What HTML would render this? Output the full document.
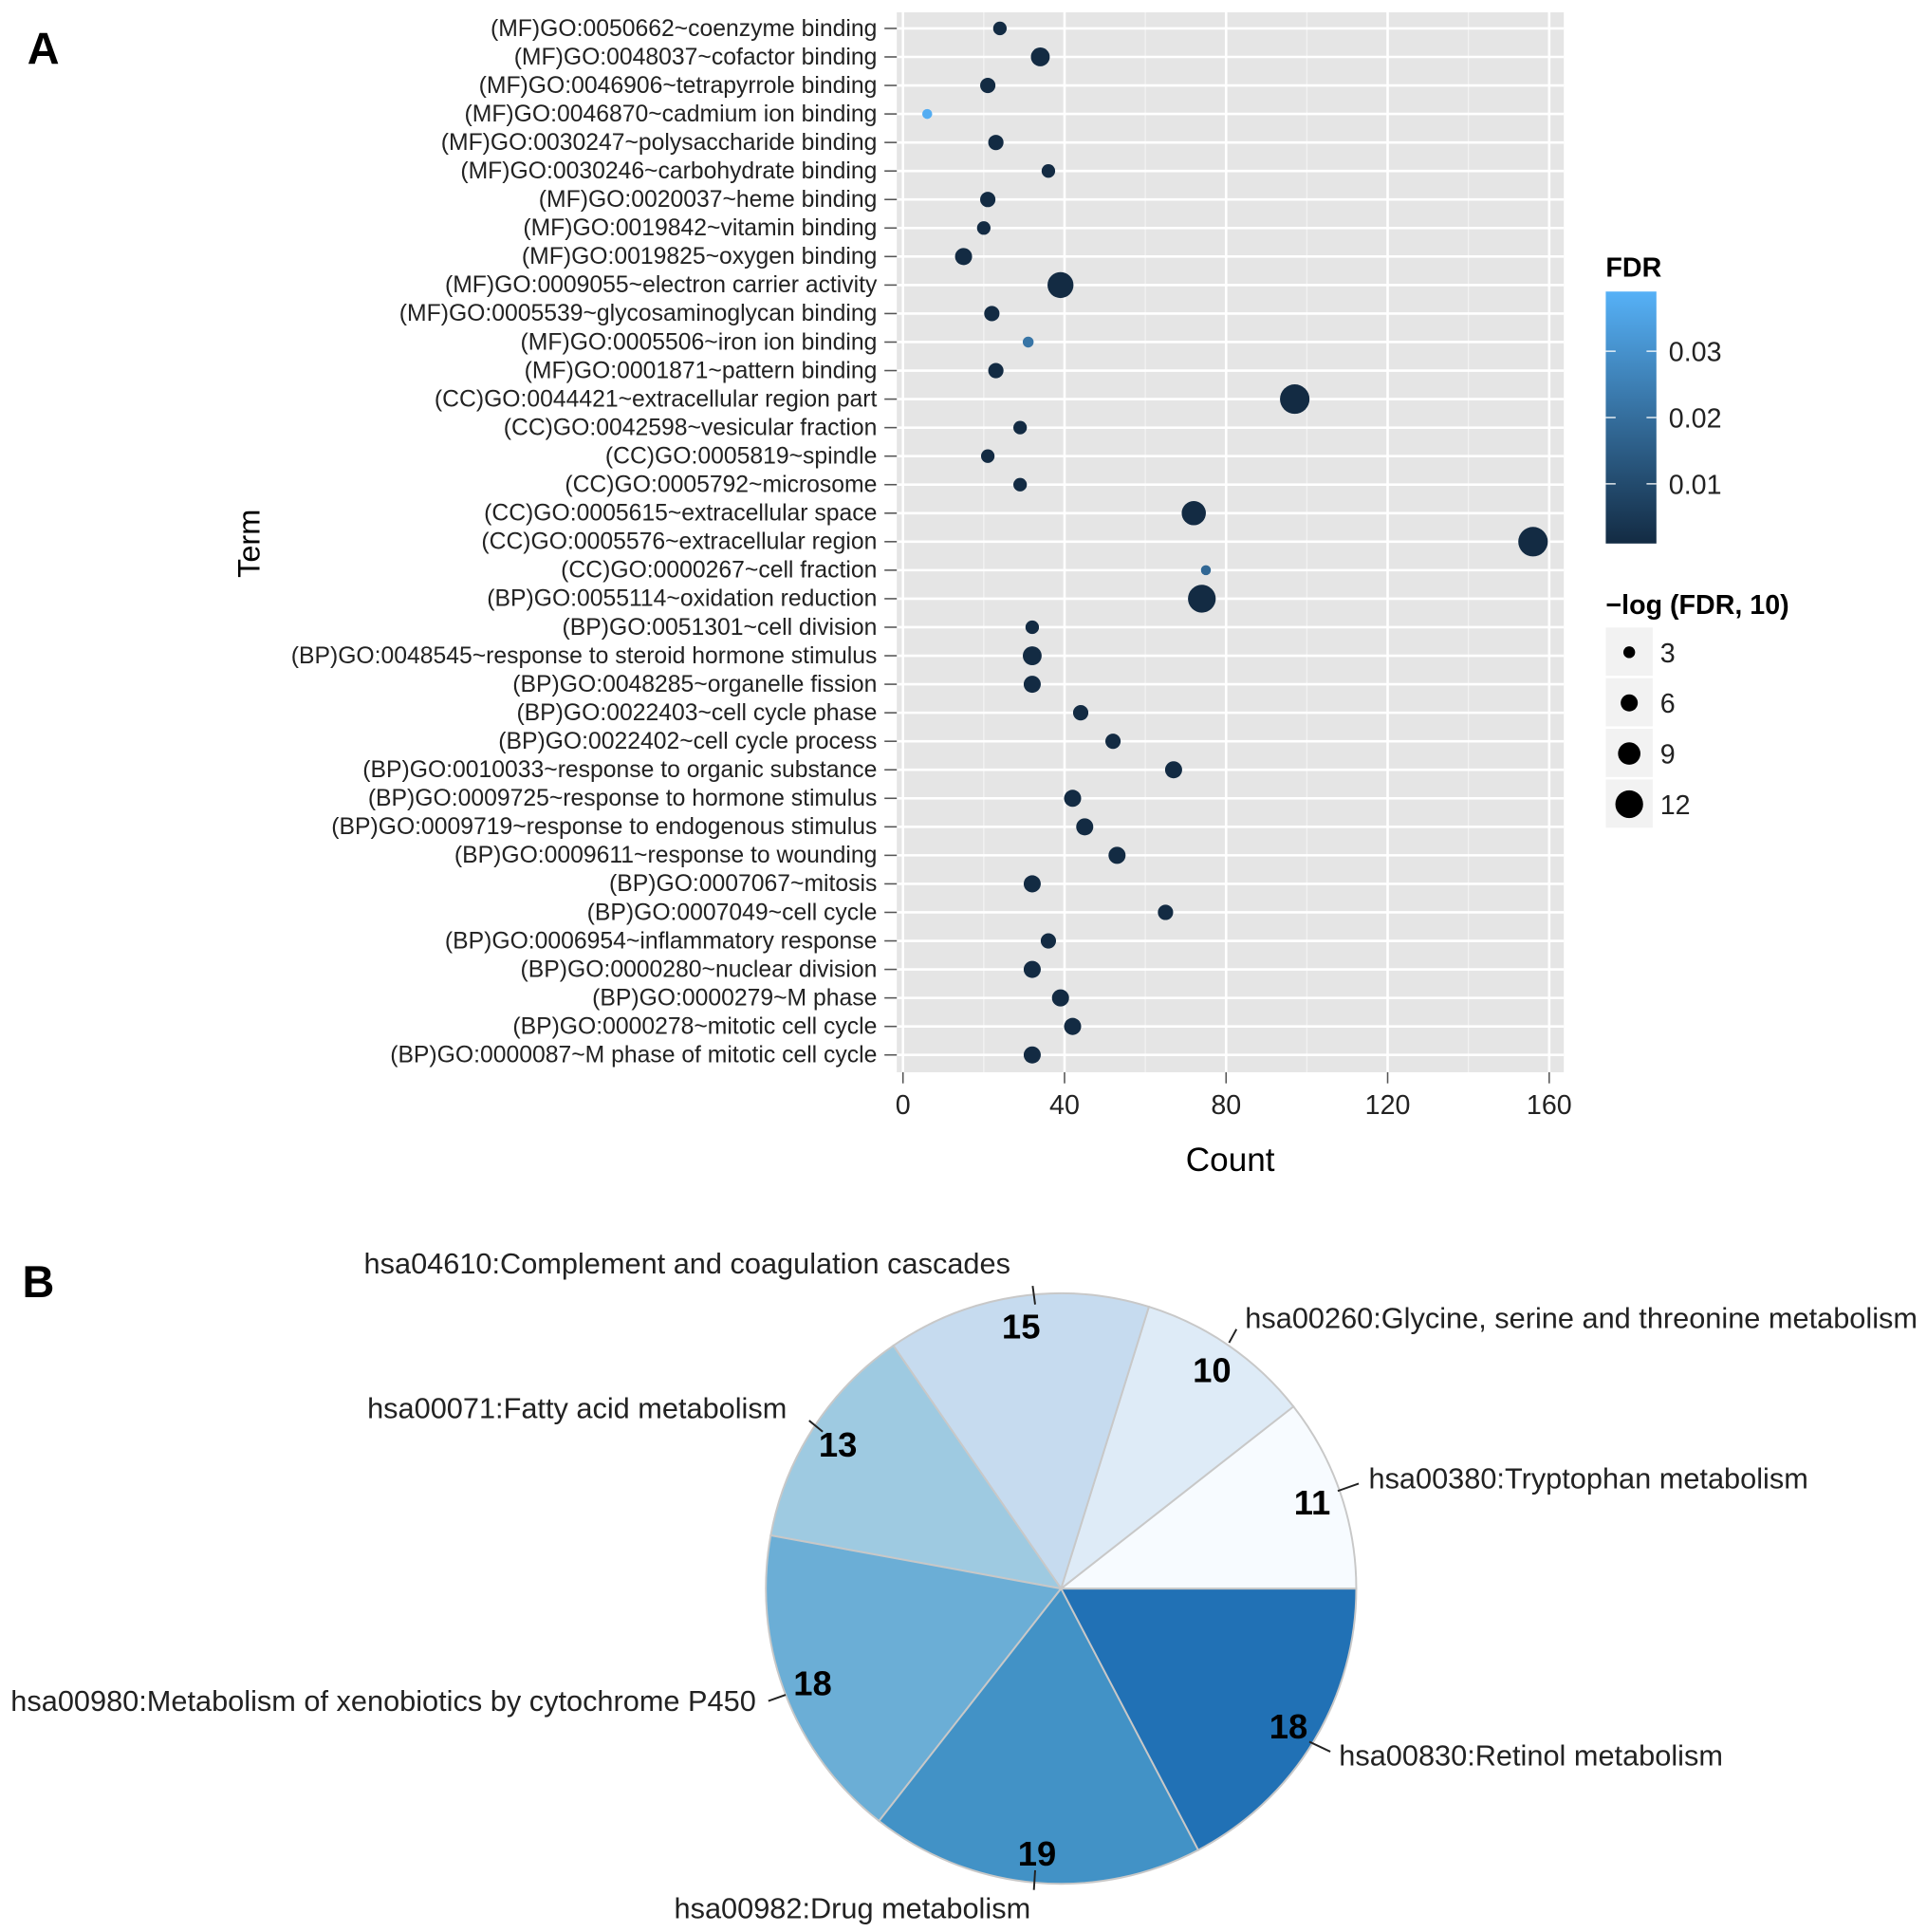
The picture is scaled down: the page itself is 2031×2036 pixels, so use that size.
<!DOCTYPE html>
<html><head><meta charset="utf-8"><style>
html,body{margin:0;padding:0;background:#fff}
svg{display:block;font-family:"Liberation Sans",Arial,sans-serif}
</style></head><body>
<svg id="fig" width="2031" height="2036" viewBox="0 0 1560 1564" xmlns="http://www.w3.org/2000/svg">
<rect width="1560" height="1564" fill="#fff"/>
<text x="22" y="52" font-size="36" font-weight="bold">A</text>
<text x="18" y="1050" font-size="36" font-weight="bold">B</text>
<g id="dot"></g>
<g id="pie"></g>
</svg>
<script>
const terms=["(MF)GO:0050662~coenzyme binding","(MF)GO:0048037~cofactor binding","(MF)GO:0046906~tetrapyrrole binding","(MF)GO:0046870~cadmium ion binding","(MF)GO:0030247~polysaccharide binding","(MF)GO:0030246~carbohydrate binding","(MF)GO:0020037~heme binding","(MF)GO:0019842~vitamin binding","(MF)GO:0019825~oxygen binding","(MF)GO:0009055~electron carrier activity","(MF)GO:0005539~glycosaminoglycan binding","(MF)GO:0005506~iron ion binding","(MF)GO:0001871~pattern binding","(CC)GO:0044421~extracellular region part","(CC)GO:0042598~vesicular fraction","(CC)GO:0005819~spindle","(CC)GO:0005792~microsome","(CC)GO:0005615~extracellular space","(CC)GO:0005576~extracellular region","(CC)GO:0000267~cell fraction","(BP)GO:0055114~oxidation reduction","(BP)GO:0051301~cell division","(BP)GO:0048545~response to steroid hormone stimulus","(BP)GO:0048285~organelle fission","(BP)GO:0022403~cell cycle phase","(BP)GO:0022402~cell cycle process","(BP)GO:0010033~response to organic substance","(BP)GO:0009725~response to hormone stimulus","(BP)GO:0009719~response to endogenous stimulus","(BP)GO:0009611~response to wounding","(BP)GO:0007067~mitosis","(BP)GO:0007049~cell cycle","(BP)GO:0006954~inflammatory response","(BP)GO:0000280~nuclear division","(BP)GO:0000279~M phase","(BP)GO:0000278~mitotic cell cycle","(BP)GO:0000087~M phase of mitotic cell cycle"];
const counts=[24,34,21,6,23,36,21,20,15,39,22,31,23,97,29,21,29,72,156,75,74,32,32,32,44,52,67,42,45,53,32,65,36,32,39,42,32];
const negLog=[4,7,5,2,5,4,5,4,6,11,5,2.5,5,13,4,4,4,10,13,2,12,4,7,6,5,5,6,6,6,6,6,5,5,6,6,6,6];
const fdr=[0.001,0.001,0.001,0.038,0.001,0.001,0.001,0.001,0.001,0.001,0.001,0.022,0.001,0.001,0.001,0.001,0.001,0.001,0.001,0.018,0.001,0.001,0.001,0.001,0.001,0.001,0.001,0.001,0.001,0.001,0.001,0.001,0.001,0.001,0.001,0.001,0.001];
const xTicks=[0,40,80,120,160];
const fdrTicks=[0.01,0.02,0.03];
const sizeKeys=[3,6,9,12];
const pieLabels=["hsa00380:Tryptophan metabolism","hsa00260:Glycine, serine and threonine metabolism","hsa04610:Complement and coagulation cascades","hsa00071:Fatty acid metabolism","hsa00980:Metabolism of xenobiotics by cytochrome P450","hsa00982:Drug metabolism","hsa00830:Retinol metabolism"];
const pieValues=[11,10,15,13,18,19,18];
const pieColors=["#f7fbff","#deebf7","#c6dbef","#9ecae1","#6baed6","#4292c6","#2171b5"];

const NS="http://www.w3.org/2000/svg";
function el(tag,attrs,parent,text){const e=document.createElementNS(NS,tag);for(const k in attrs)e.setAttribute(k,attrs[k]);if(text!==undefined)e.textContent=text;parent.appendChild(e);return e;}
const dot=document.getElementById('dot');
const X0=731,KX=3.27,Y0=23,STEP=(854-23)/36;
const xs=v=>X0+v*KX, ys=i=>Y0+i*STEP;
const rs=v=>2.6+0.72*v;
function lerp(a,b,t){return Math.round(a+(b-a)*t);}
function colorOf(f){const t=Math.min(1,Math.max(0,(f-0.001)/0.038));return `rgb(${lerp(19,86,t)},${lerp(43,177,t)},${lerp(67,247,t)})`;}
let bg=el('rect',{x:726,y:10,width:540,height:858,fill:'#e5e5e5'},dot);


for(let v=20;v<=160;v+=40){el('line',{x1:xs(v),x2:xs(v),y1:10,y2:868,stroke:'#f2f2f2','stroke-width':1},dot);}
xTicks.forEach(v=>{const l=el('line',{x1:xs(v),x2:xs(v),y1:10,y2:868,stroke:'#fff','stroke-width':2},dot);});
terms.forEach((t,i)=>{const y=ys(i);
 el('line',{x1:726,x2:1266,y1:y,y2:y,stroke:'#fff','stroke-width':2},dot);
 el('line',{x1:716,x2:726,y1:y,y2:y,stroke:'#555','stroke-width':1.2},dot);
 const tx=el('text',{x:710,y:y+6,'font-size':19,'text-anchor':'end',fill:'#222'},dot,t);
 
 
});
xTicks.forEach(v=>{el('line',{x1:xs(v),x2:xs(v),y1:868,y2:877,stroke:'#555','stroke-width':1.2},dot);
 const tx=el('text',{x:xs(v),y:902,'font-size':22,'text-anchor':'middle',fill:'#222'},dot,String(v));
 
 });
terms.forEach((t,i)=>{const c=el('circle',{cx:xs(counts[i]),cy:ys(i),r:rs(negLog[i]),fill:colorOf(fdr[i])},dot);
 
 });
let at=el('text',{x:0,y:0,'font-size':25,'text-anchor':'middle',transform:'translate(210,440) rotate(-90)'},dot,'Term');

at=el('text',{x:996,y:948,'font-size':27,'text-anchor':'middle'},dot,'Count');

at=el('text',{x:1300,y:224,'font-size':22,'font-weight':'bold'},dot,'FDR');

const defs=el('defs',{},dot);const lg=el('linearGradient',{id:'gr',x1:0,y1:1,x2:0,y2:0},defs);
el('stop',{offset:'0','stop-color':'#132b43'},lg);el('stop',{offset:'1','stop-color':'#56b1f7'},lg);
const cb=el('rect',{x:1300,y:236,width:41,height:204,fill:'url(#gr)'},dot);

const fy=f=>440-(f-0.001)/0.038*204;
fdrTicks.forEach(f=>{const y=fy(f);el('line',{x1:1300,x2:1308,y1:y,y2:y,stroke:'#fff','stroke-width':1},dot);el('line',{x1:1333,x2:1341,y1:y,y2:y,stroke:'#fff','stroke-width':1},dot);
 const tx=el('text',{x:1351,y:y+8,'font-size':22,fill:'#222'},dot,String(f));
 });
at=el('text',{x:1300,y:497,'font-size':22,'font-weight':'bold'},dot,'\u2212log (FDR, 10)');

sizeKeys.forEach((k,i)=>{const y=528+i*41;
 el('rect',{x:1300,y:y-20,width:38,height:39,fill:'#f2f2f2'},dot);
 const c=el('circle',{cx:1319,cy:y,r:rs(k),fill:'#000'},dot);
 
 const tx=el('text',{x:1344,y:y+8,'font-size':22,fill:'#222'},dot,String(k));
 });
const pie=document.getElementById('pie');
const CX=859,CY=1286,R=239;
const total=pieValues.reduce((a,b)=>a+b,0);
const lab=[[1108,1205,'start'],[1008,1075,'start'],[818,1031,'end'],[637,1148,'end'],[612,1385,'end'],[690,1553,'middle'],[1084,1429,'start']];
const leader=[[1083,1207,1100,1201],[995,1087,1001,1076],[836,1041,838,1056],[655,1150,666,1159],[622,1377,636,1372],[838,1514,837,1530],[1060,1410,1077,1418]];
let a0=0;
pieValues.forEach((v,i)=>{const a1=a0+v/total*2*Math.PI;
 const p0=[CX+R*Math.cos(a0),CY-R*Math.sin(a0)],p1=[CX+R*Math.cos(a1),CY-R*Math.sin(a1)];
 const large=(a1-a0)>Math.PI?1:0;
 const p=el('path',{d:`M${CX},${CY}L${p0[0]},${p0[1]}A${R},${R} 0 ${large} 0 ${p1[0]},${p1[1]}Z`,fill:pieColors[i],stroke:'#c8c8c8','stroke-width':1.5},pie);
 
 const am=(a0+a1)/2, rr=R*0.9;
 const n=el('text',{x:CX+rr*Math.cos(am),y:CY-rr*Math.sin(am)+10,'font-size':28,'font-weight':'bold','text-anchor':'middle'},pie,String(v));
 
 const L=leader[i];el('line',{x1:L[0],y1:L[1],x2:L[2],y2:L[3],stroke:'#222','stroke-width':1.5},pie);
 const t=el('text',{x:lab[i][0],y:lab[i][1],'font-size':23.6,'text-anchor':lab[i][2],fill:'#222'},pie,pieLabels[i]);
 
 a0=a1;});
</script>
</body></html>
